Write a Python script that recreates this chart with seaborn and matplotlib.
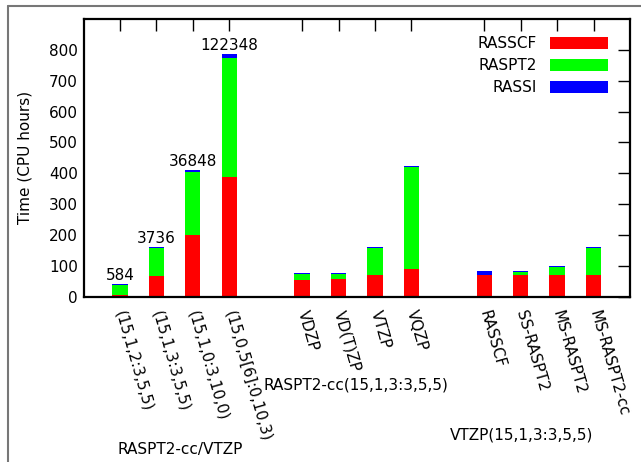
import numpy as np
import pandas as pd
import matplotlib
matplotlib.use("Agg")
import matplotlib.pyplot as plt
import seaborn as sns
from matplotlib.patches import Patch
from matplotlib.lines import Line2D

# ---- data ----
labels = ["(15,1,2:3,5,5)", "(15,1,3:3,5,5)", "(15,1,0:3,10,0)", "(15,0,5[6]:0,10,3)",
          "VDZP", "VD(T)ZP", "VTZP", "VQZP",
          "RASSCF", "SS-RASPT2", "MS-RASPT2", "MS-RASPT2-cc"]
positions = [0, 1, 2, 3, 5, 6, 7, 8, 10, 11, 12, 13]
rasscf = [5, 68, 200, 387, 55, 58, 69, 90, 69, 69, 69, 69]
raspt2 = [33, 90, 204, 388, 19, 16, 89, 330, 0, 12, 26, 89]
rassi = [3, 3, 6, 10, 3, 3, 3, 4, 15, 3, 3, 3]
bar_notes = ["584", "3736", "36848", "122348"]
group_labels = ["RASPT2-cc/VTZP", "RASPT2-cc(15,1,3:3,5,5)", "VTZP(15,1,3:3,5,5)"]
series_names = ["RASSCF", "RASPT2", "RASSI"]
series_colors = ["#ff0000", "#00ff00", "#0000ff"]

df = pd.DataFrame({"pos": positions, "label": labels,
                   "RASSCF": rasscf, "RASPT2": raspt2, "RASSI": rassi})
df["lvl1"] = df["RASSCF"]
df["lvl2"] = df["RASSCF"] + df["RASPT2"]
df["lvl3"] = df["lvl2"] + df["RASSI"]

sns.set_style("white")
FS = 11
plt.rcParams.update({
    "font.family": ["DejaVu Sans"],
    "font.size": FS,
    "text.color": "black",
    "axes.labelcolor": "black",
    "xtick.color": "black",
    "ytick.color": "black",
    "xtick.labelcolor": "black",
    "ytick.labelcolor": "black",
})

W, H = 641, 462
fig = plt.figure(figsize=(W / 100, H / 100), dpi=100)
L, R, T, B = 83.5, 630, 19, 296.7
ax = fig.add_axes([L / W, 1 - B / H, (R - L) / W, (B - T) / H])

for col, color in zip(["lvl3", "lvl2", "lvl1"], series_colors[::-1]):
    sns.barplot(data=df, x="pos", y=col, native_scale=True, color=color,
                saturation=1, width=0.42, errorbar=None, linewidth=0, ax=ax)

ax.set_xlim(-1, 14)
ax.set_ylim(0, 900)
ax.set_yticks(np.arange(0, 801, 100))
ax.set_xticks(positions)
ax.set_xticklabels(labels, rotation=-74, ha="left", va="center",
                   rotation_mode="anchor", fontsize=FS)
ax.set_yticklabels([str(v) for v in range(0, 801, 100)], fontsize=FS)
ax.set_xlabel("")
ax.set_ylabel("Time (CPU hours)", fontsize=FS)
ax.yaxis.set_label_coords(-0.093, 0.5)
ax.set_axisbelow(True)

for s in ax.spines.values():
    s.set_visible(True)
    s.set_color("black")
    s.set_linewidth(1.6)
ax.tick_params(axis="both", direction="in", length=8.6, width=1.0,
               color="black", top=True, right=True)
ax.tick_params(axis="x", pad=10)
ax.tick_params(axis="y", pad=4)

for i, note in enumerate(bar_notes):
    ax.annotate(note, (positions[i], df["lvl3"][i]), xytext=(0, 3),
                textcoords="offset points", ha="center", va="baseline",
                fontsize=FS)

# group labels
fig.text(180 / W, 1 - 449.5 / H, group_labels[0], ha="center", va="center", fontsize=FS)
fig.text(356 / W, 1 - 384.5 / H, group_labels[1], ha="center", va="center", fontsize=FS)
fig.text(522 / W, 1 - 435.5 / H, group_labels[2], ha="center", va="center", fontsize=FS)

handles = [Patch(facecolor=c, edgecolor="none", label=n)
           for n, c in zip(series_names, series_colors)]
fs = FS * 100 / 72
ax.legend(handles=handles, loc="upper right", frameon=False, markerfirst=False,
          bbox_to_anchor=(608 / W, 1 - 36.5 / H), bbox_transform=fig.transFigure,
          borderpad=0, borderaxespad=0, handlelength=58 / fs, handleheight=12 / fs,
          handletextpad=13 / fs, labelspacing=0.45, fontsize=FS)

# partial outer frame
fig.add_artist(Line2D([7.5 / W, 1], [1 - 5.5 / H] * 2, color="#777777", lw=1.5,
                      transform=fig.transFigure))
fig.add_artist(Line2D([7.5 / W] * 2, [0, 1 - 5.5 / H], color="#777777", lw=1.5,
                      transform=fig.transFigure))

fig.savefig("out.png", dpi=100)
